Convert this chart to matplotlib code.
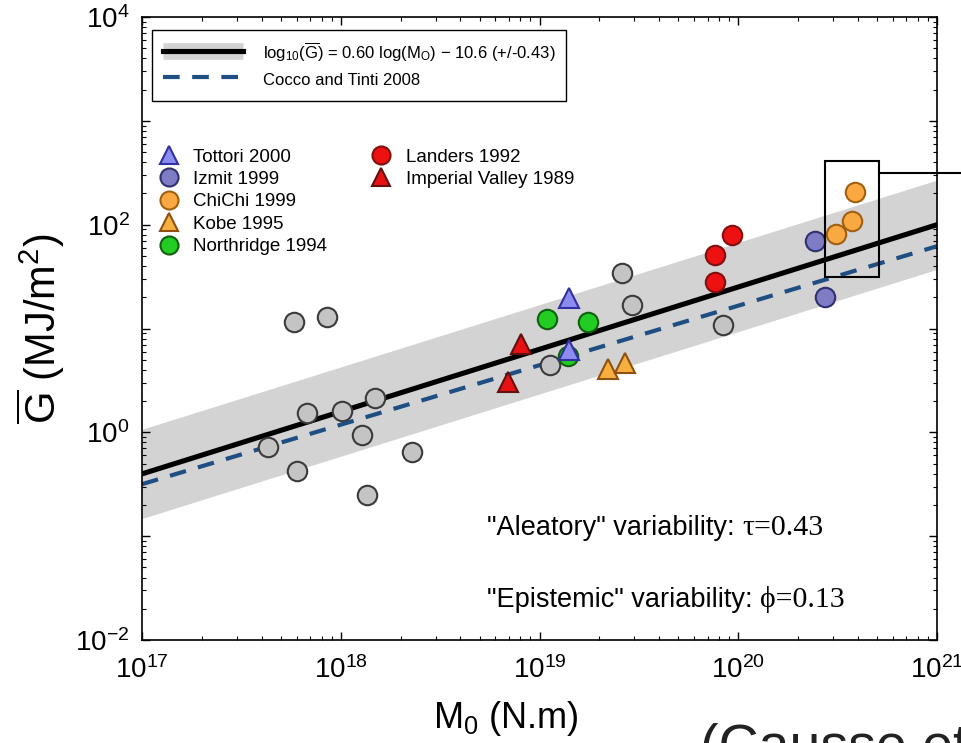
import matplotlib
matplotlib.use('Agg')
import numpy as np
import matplotlib.pyplot as plt
from matplotlib.lines import Line2D
from matplotlib.patches import Rectangle
from matplotlib.ticker import LogLocator, FuncFormatter, NullFormatter

plt.rcParams['font.family'] = 'Liberation Sans'
plt.rcParams['mathtext.fontset'] = 'custom'
plt.rcParams['mathtext.rm'] = 'Liberation Sans'
plt.rcParams['mathtext.it'] = 'Liberation Sans:italic'
plt.rcParams['mathtext.bf'] = 'Liberation Sans:bold'

# log10(M0 [N.m]) and log10(G [MJ/m2])
grey_logm = [17.765, 17.931, 17.634, 17.780, 17.830, 18.006, 18.107,
             18.172, 18.132, 18.358, 19.053, 19.415, 19.465, 19.923]
grey_logg = [1.062, 1.110, -0.143, -0.374, 0.185, 0.204, -0.027,
             0.330, -0.605, -0.191, 0.647, 1.534, 1.225, 1.033]

tottori_logm = [19.148, 19.148]
tottori_logg = [1.293, 0.792]
izmit_logm = [20.386, 20.436]
izmit_logg = [1.845, 1.305]
chichi_logm = [20.587, 20.571, 20.492]
chichi_logg = [2.317, 2.035, 1.906]
kobe_logm = [19.345, 19.430]
kobe_logg = [0.609, 0.667]
northridge_logm = [19.038, 19.244, 19.143]
northridge_logg = [1.091, 1.062, 0.734]
landers_logm = [19.969, 19.883, 19.883]
landers_logg = [1.900, 1.707, 1.447]
imperial_logm = [18.907, 18.842]
imperial_logg = [0.847, 0.484]

# scaling laws: log10(G) = a*log10(M0) + b
fit_a, fit_b, fit_sigma = 0.60, -10.6, 0.43
cocco_a, cocco_b = 0.573, -10.24
m_range = [1e17, 1e21]

# highlighted ChiChi box (log units)
box_logm = [20.436, 20.709]
box_logg = [1.498, 2.616]

band_c = '#d3d3d3'
cocco_c = '#1f4f82'

fig = plt.figure(figsize=(9.61, 7.43), dpi=100)
ax = fig.add_axes([0.1478, 0.1386, 0.8273, 0.8385])

m = np.array(m_range)
g_fit = 10 ** (fit_a * np.log10(m) + fit_b)
ax.fill_between(m, g_fit * 10 ** -fit_sigma, g_fit * 10 ** fit_sigma,
                color=band_c, lw=0, zorder=1)
ax.plot(m, g_fit, color='k', lw=3.7, zorder=2)
ax.plot(m, 10 ** (cocco_a * np.log10(m) + cocco_b), color=cocco_c,
        lw=3, ls=(0, (4, 3)), zorder=2)

ms = 14
def pts(logm, logg, marker, fc, ec):
    ax.plot(10 ** np.array(logm), 10 ** np.array(logg), ls='none',
            marker=marker, ms=ms, mfc=fc, mec=ec, mew=1.5, zorder=3)

pts(grey_logm, grey_logg, 'o', '#c4c4c4', '#3a3a3a')
pts(northridge_logm, northridge_logg, 'o', '#22cc22', '#106010')
pts(tottori_logm, tottori_logg, '^', '#8c8cf0', '#3030a0')
pts(izmit_logm, izmit_logg, 'o', '#7e7cc4', '#303070')
pts(chichi_logm, chichi_logg, 'o', '#f9a842', '#a06010')
pts(kobe_logm, kobe_logg, '^', '#f7b040', '#905010')
pts(landers_logm, landers_logg, 'o', '#ee1111', '#801010')
pts(imperial_logm, imperial_logg, '^', '#e81010', '#601010')

# box around ChiChi and pointer line
x0, x1 = 10 ** box_logm[0], 10 ** box_logm[1]
y0, y1 = 10 ** box_logg[0], 10 ** box_logg[1]
ax.add_patch(Rectangle((x0, y0), x1 - x0, y1 - y0, fill=False,
                       edgecolor='k', lw=1.5, zorder=4))
ax.plot([x1, 1.9e21], [10 ** 2.497, 10 ** 2.497], color='k', lw=1.5,
        clip_on=False, zorder=4)

ax.set_xscale('log')
ax.set_yscale('log')
ax.set_xlim(1e17, 1e21)
ax.set_ylim(1e-2, 1e4)

ax.xaxis.set_major_locator(LogLocator(base=10, numticks=10))
ax.yaxis.set_major_locator(LogLocator(base=10, numticks=10))
ax.xaxis.set_minor_locator(LogLocator(base=10, subs=np.arange(2, 10), numticks=20))
ax.yaxis.set_minor_locator(LogLocator(base=10, subs=np.arange(2, 10), numticks=20))
ax.xaxis.set_minor_formatter(NullFormatter())
ax.yaxis.set_minor_formatter(NullFormatter())

def even_pow(v, pos):
    e = int(round(np.log10(v)))
    return r'$10^{%d}$' % e if e % 2 == 0 else ''

ax.yaxis.set_major_formatter(FuncFormatter(even_pow))
ax.xaxis.set_major_formatter(FuncFormatter(lambda v, p: r'$10^{%d}$' % int(round(np.log10(v)))))
ax.tick_params(which='both', direction='in', top=True, right=True, labelsize=20)
ax.tick_params(which='major', length=6, width=1)
ax.tick_params(which='minor', length=3, width=0.8)
ax.tick_params(axis='x', pad=12)
ax.tick_params(axis='y', pad=9)
for s in ax.spines.values():
    s.set_linewidth(1.2)

ax.set_xlabel(r'M$_0$ (N.m)', fontsize=26)
ax.xaxis.set_label_coords(0.457, -0.095)
ax.set_ylabel(r'$\overline{\mathrm{G}}$ (MJ/m$^2$)', fontsize=30)
ax.yaxis.set_label_coords(-0.094, 0.5)

# scaling-law legend
h_fit = (Line2D([], [], color=band_c, lw=12, solid_capstyle='butt'),
         Line2D([], [], color='k', lw=3.7))
h_ct = Line2D([], [], color=cocco_c, lw=3, ls=(0, (4, 3)))
leg1 = ax.legend([h_fit, h_ct],
                 [r'log$_{10}$($\overline{\mathrm{G}}$) = 0.60 log(M$_\mathrm{O}$) $-$ 10.6 (+/-0.43)',
                  'Cocco and Tinti 2008'],
                 loc='upper left', bbox_to_anchor=(0.0126, 0.979), borderaxespad=0,
                 fancybox=False, edgecolor='k', framealpha=1, fontsize=12,
                 handlelength=4.8, handleheight=1.6, borderpad=0.65,
                 labelspacing=0.25, handletextpad=1.2)
leg1.get_frame().set_linewidth(1.0)
ax.add_artist(leg1)

# event legend
def mk(marker, fc, ec):
    return Line2D([], [], ls='none', marker=marker, ms=13, mfc=fc, mec=ec, mew=1.5)

blank = Line2D([], [], ls='none')
handles = [mk('^', '#8c8cf0', '#3030a0'), mk('o', '#7e7cc4', '#303070'),
           mk('o', '#f9a842', '#a06010'), mk('^', '#f7b040', '#905010'),
           mk('o', '#22cc22', '#106010'), mk('o', '#ee1111', '#801010'),
           mk('^', '#e81010', '#601010'), blank, blank, blank]
labels = ['Tottori 2000', 'Izmit 1999', 'ChiChi 1999', 'Kobe 1995',
          'Northridge 1994', 'Landers 1992', 'Imperial Valley 1989', '', '', '']
ax.legend(handles, labels, ncol=2, loc='upper left', bbox_to_anchor=(0.017, 0.795),
          borderaxespad=0, frameon=False, fontsize=13.5, handlelength=1.0,
          handletextpad=0.8, labelspacing=0.28, columnspacing=2.4, borderpad=0.2)

t1 = ax.text(0.434, 0.169, '"Aleatory" variability: ', transform=ax.transAxes,
             fontsize=19.5, va='baseline')
ax.annotate('τ=0.43', xy=(1, 0), xycoords=t1, va='bottom', fontsize=21.5,
            family='Liberation Serif')
t2 = ax.text(0.434, 0.053, '"Epistemic" variability: ', transform=ax.transAxes,
             fontsize=19.5, va='baseline')
ax.annotate('ϕ=0.13', xy=(1, 0), xycoords=t2, va='bottom', fontsize=21.5,
            family='Liberation Serif')

fig.text(0.728, -0.027, '(Causse et al.', fontsize=40, color='#222222', va='baseline')

fig.savefig('out.png', dpi=100)
